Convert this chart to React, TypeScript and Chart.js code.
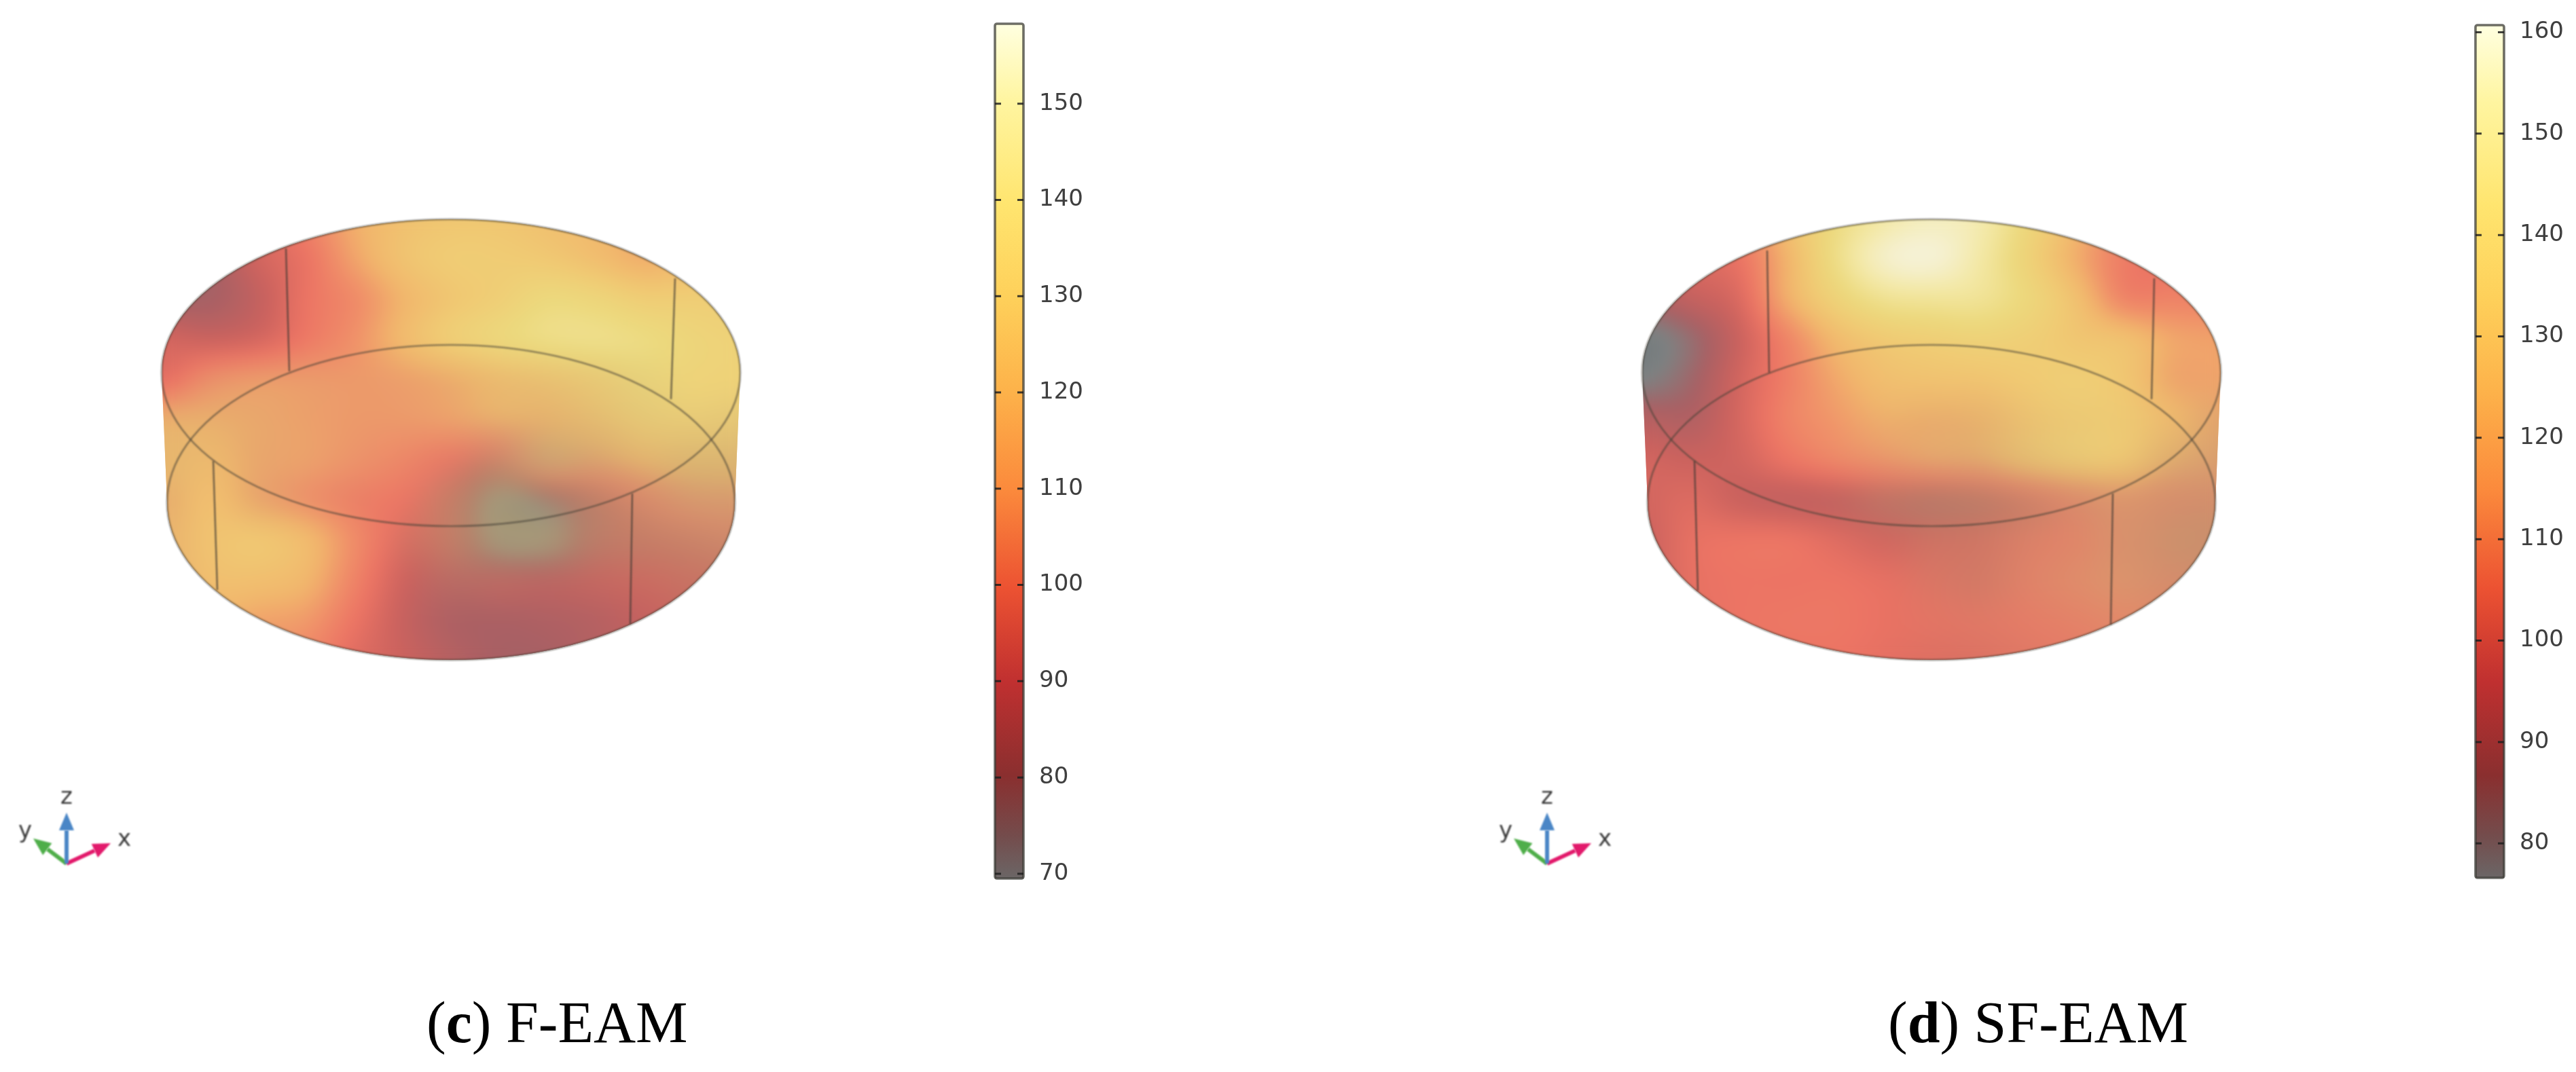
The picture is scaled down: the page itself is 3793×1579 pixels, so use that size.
import React, { useEffect, useRef } from "react";
import { Chart, registerables } from "chart.js";

Chart.register(...registerables);

// ---- values (temperature, one row per image band, top to bottom) ----
const fEamField: number[][] = [
  [92, 92, 95, 105, 118, 125, 128, 128, 125, 122, 118, 118, 120],
  [85, 82, 92, 100, 115, 126, 131, 131, 129, 124, 118, 122, 128],
  [80, 80, 88, 100, 108, 120, 128, 133, 139, 137, 132, 132, 132],
  [92, 90, 93, 102, 110, 122, 132, 138, 142, 143, 141, 137, 135],
  [98, 108, 112, 112, 112, 114, 118, 124, 128, 133, 138, 136, 135],
  [118, 118, 116, 114, 112, 112, 114, 118, 120, 126, 133, 134, 133],
  [122, 122, 116, 114, 110, 106, 100, 95, 112, 114, 121, 125, 125],
  [118, 124, 116, 110, 104, 100, 90, 70, 76, 88, 100, 108, 110],
  [120, 126, 128, 122, 108, 95, 88, 71, 72, 85, 90, 93, 96],
  [118, 124, 124, 120, 105, 91, 85, 85, 85, 88, 90, 90, 90],
  [110, 118, 115, 112, 100, 89, 82, 81, 82, 84, 88, 90, 90],
  [110, 112, 110, 106, 96, 90, 84, 80, 80, 84, 88, 90, 90],
];
const sfEamField: number[][] = [
  [100, 100, 105, 125, 140, 150, 155, 152, 138, 122, 108, 105, 105],
  [90, 95, 100, 120, 142, 157, 160, 150, 135, 118, 103, 100, 100],
  [82, 88, 95, 118, 135, 145, 147, 146, 138, 125, 106, 105, 105],
  [67, 76, 90, 106, 122, 130, 133, 135, 133, 128, 125, 116, 114],
  [70, 78, 92, 104, 116, 124, 126, 127, 130, 132, 128, 116, 115],
  [84, 83, 93, 105, 112, 118, 118, 120, 127, 131, 130, 122, 115],
  [92, 90, 92, 100, 106, 110, 114, 116, 125, 130, 128, 118, 112],
  [92, 95, 90, 88, 88, 88, 86, 88, 95, 103, 108, 102, 100],
  [90, 98, 100, 100, 96, 92, 92, 93, 98, 102, 104, 98, 96],
  [90, 98, 100, 100, 100, 98, 96, 95, 100, 104, 106, 100, 98],
  [95, 98, 100, 101, 101, 99, 98, 98, 100, 102, 104, 102, 100],
  [100, 100, 100, 100, 100, 98, 96, 96, 98, 100, 102, 102, 102],
];
// greyish haze over the colours where the faces overlap, percent
const fEamVeil: number[][] = [
  [0, 0, 0, 0, 0, 0, 0, 0, 0, 0, 0, 0, 0],
  [0, 0, 0, 0, 0, 0, 0, 0, 0, 0, 0, 0, 0],
  [0, 0, 0, 0, 0, 0, 0, 0, 0, 0, 0, 0, 0],
  [0, 0, 0, 0, 0, 0, 0, 0, 0, 0, 0, 0, 0],
  [0, 10, 10, 10, 8, 8, 10, 12, 15, 15, 12, 0, 0],
  [15, 15, 15, 10, 8, 8, 10, 20, 25, 25, 20, 15, 20],
  [20, 10, 15, 10, 8, 5, 15, 50, 65, 45, 30, 40, 40],
  [20, 0, 15, 8, 5, 5, 40, 60, 40, 45, 45, 50, 50],
  [15, 0, 0, 0, 0, 10, 40, 60, 60, 40, 40, 45, 50],
  [15, 0, 0, 0, 0, 0, 15, 15, 10, 10, 15, 25, 30],
  [0, 0, 0, 0, 0, 0, 0, 0, 0, 0, 0, 10, 10],
  [0, 0, 0, 0, 0, 0, 0, 0, 0, 0, 0, 0, 0],
];
const sfEamVeil: number[][] = [
  [0, 0, 0, 0, 0, 0, 0, 0, 0, 0, 0, 0, 0],
  [0, 0, 0, 0, 0, 0, 0, 0, 0, 0, 0, 0, 0],
  [0, 0, 0, 0, 0, 0, 0, 0, 0, 0, 0, 0, 0],
  [0, 0, 0, 0, 0, 0, 0, 0, 0, 0, 0, 0, 0],
  [0, 0, 0, 0, 0, 0, 0, 0, 0, 0, 0, 5, 5],
  [0, 0, 0, 0, 0, 8, 15, 18, 12, 8, 5, 10, 30],
  [0, 0, 0, 0, 5, 15, 25, 30, 25, 15, 10, 35, 45],
  [0, 0, 0, 0, 5, 25, 35, 40, 40, 40, 40, 50, 55],
  [0, 0, 0, 0, 0, 5, 20, 25, 30, 30, 45, 60, 60],
  [0, 0, 0, 0, 0, 0, 15, 25, 28, 30, 40, 50, 50],
  [0, 0, 0, 0, 0, 0, 8, 15, 18, 20, 25, 30, 30],
  [0, 0, 0, 0, 0, 0, 5, 10, 15, 15, 20, 20, 20],
];

const fEamTicks = [70, 80, 90, 100, 110, 120, 130, 140, 150];
const sfEamTicks = [80, 90, 100, 110, 120, 130, 140, 150, 160];
const fEamRange: [number, number] = [69.5, 158.3];
const sfEamRange: [number, number] = [76.6, 160.7];

// colour bar stops, as a fraction of the bar's range
const barColormap: [number, string][] = [
  [0, "#6b6666"], [0.05, "#744c4c"], [0.12, "#8a2f2f"], [0.23, "#c03030"], [0.34, "#ec5232"],
  [0.455, "#fb8a3c"], [0.57, "#fdb24a"], [0.68, "#fed05a"], [0.79, "#ffe56f"], [0.91, "#fff5a0"], [1, "#ffffe0"],
];
const surfaceColormap: [number, number[]][] = [
  [67, [118, 124, 126]], [70, [125, 130, 130]], [80, [168, 96, 100]], [90, [203, 98, 94]],
  [100, [236, 116, 100]], [110, [240, 145, 105]], [120, [241, 182, 108]], [130, [240, 202, 115]],
  [140, [236, 217, 125]], [150, [243, 232, 165]], [160, [245, 241, 212]],
];
const veilColor = [190, 165, 115];

type Seg = [number, number, number, number];
const fEamEdges: Seg[] = [[421, 366, 426, 547], [994, 410, 988, 588], [314, 679, 320, 869], [931, 727, 928, 919]];
const sfEamEdges: Seg[] = [[422, 369, 425, 549], [992, 410, 988, 588], [315, 679, 320, 870], [931, 727, 928, 920]];

const GEOM = {
  top: { cx: 664, cy: 549, rx: 426, ry: 226 },
  bot: { cx: 664, cy: 740, rx: 418, ry: 232 },
  grid: { x0: 238.5, dx: 70.5, y0: 328, dy: 57.7 },
  triad: { o: [98, 1272], z: [98, 1197], y: [49, 1235], x: [163, 1242], lz: [98, 1175], ly: [37, 1225], lx: [183, 1237] },
};

function cm(t: number): number[] {
  const s = surfaceColormap;
  if (t <= s[0][0]) return s[0][1];
  for (let i = 1; i < s.length; i++) {
    if (t <= s[i][0]) {
      const f = (t - s[i - 1][0]) / (s[i][0] - s[i - 1][0]);
      return s[i][1].map((c, k) => s[i - 1][1][k] + (c - s[i - 1][1][k]) * f);
    }
  }
  return s[s.length - 1][1];
}

function cr(a: number, b: number, c: number, d: number, t: number) {
  return b + 0.5 * t * (c - a + t * (2 * a - 5 * b + 4 * c - d + t * (3 * (b - c) + d - a)));
}

function sampler(field: number[][]) {
  const R = field.length, C = field[0].length;
  const at = (r: number, c: number) => field[Math.max(0, Math.min(R - 1, r))][Math.max(0, Math.min(C - 1, c))];
  return (u: number, v: number) => {
    const fy = v * (R - 1);
    const r0 = Math.min(R - 2, Math.floor(fy));
    const fx = u * (C - 1);
    const c0 = Math.min(C - 2, Math.floor(fx));
    const col = [-1, 0, 1, 2].map((o) =>
      cr(at(r0 + o, c0 - 1), at(r0 + o, c0), at(r0 + o, c0 + 1), at(r0 + o, c0 + 2), fx - c0)
    );
    return cr(col[0], col[1], col[2], col[3], fy - r0);
  };
}

function renderField(field: number[][], veil: number[][], w: number, h: number) {
  const off = document.createElement("canvas");
  off.width = w;
  off.height = h;
  const g = off.getContext("2d")!;
  const img = g.createImageData(w, h);
  const sT = sampler(field), sV = sampler(veil);
  for (let y = 0; y < h; y++) {
    for (let x = 0; x < w; x++) {
      const u = x / (w - 1), v = y / (h - 1);
      const rgb = cm(sT(u, v));
      const a = Math.max(0, Math.min(1, sV(u, v) / 100));
      const i = (y * w + x) * 4;
      for (let k = 0; k < 3; k++) img.data[i + k] = rgb[k] * (1 - a) + veilColor[k] * a;
      img.data[i + 3] = 255;
    }
  }
  g.putImageData(img, 0, 0);
  return off;
}

const surfacePlugin = {
  id: "thermalSurface",
  beforeDatasetsDraw(chart: any, _a: any, opts: any) {
    const { ctx, scales } = chart;
    const px = (v: number) => scales.x.getPixelForValue(v);
    const py = (v: number) => scales.y.getPixelForValue(v);
    const { top, bot, triad } = GEOM;
    const field: number[][] = opts.field;
    const R = field.length, C = field[0].length;
    const pts = chart.getDatasetMeta(0).data;
    const first = pts[0], last = pts[R * C - 1];
    const w = Math.round(last.x - first.x), h = Math.round(last.y - first.y);
    const off = renderField(field, opts.veil, Math.round(w / 2), Math.round(h / 2));
    const ell = (e: any) => ctx.ellipse(px(e.cx), py(e.cy), e.rx, e.ry, 0, 0, Math.PI * 2);

    ctx.save();
    ctx.beginPath();
    ell(top);
    ctx.closePath();
    ctx.moveTo(px(top.cx - top.rx), py(top.cy));
    ctx.lineTo(px(top.cx + top.rx), py(top.cy));
    ctx.lineTo(px(bot.cx + bot.rx), py(bot.cy));
    ctx.lineTo(px(bot.cx - bot.rx), py(bot.cy));
    ctx.closePath();
    ctx.moveTo(px(bot.cx + bot.rx), py(bot.cy));
    ell(bot);
    ctx.closePath();
    ctx.clip();
    ctx.imageSmoothingEnabled = true;
    ctx.imageSmoothingQuality = "high";
    ctx.drawImage(off, first.x, first.y - 8, w + 6, h + 20);
    ctx.filter = "blur(10px)";
    ctx.drawImage(off, first.x, first.y - 8, w + 6, h + 20);
    ctx.restore();

    ctx.save();
    ctx.filter = "blur(1px)";
    ctx.strokeStyle = "rgba(70,65,55,0.58)";
    ctx.lineWidth = 2.6;
    ctx.beginPath();
    ell(top);
    ctx.stroke();
    ctx.beginPath();
    ell(bot);
    ctx.stroke();
    ctx.strokeStyle = "rgba(60,55,50,0.7)";
    ctx.lineWidth = 2.4;
    for (const s of opts.edges as Seg[]) {
      ctx.beginPath();
      ctx.moveTo(px(s[0]), py(s[1]));
      ctx.lineTo(px(s[2]), py(s[3]));
      ctx.stroke();
    }
    ctx.restore();

    // coordinate triad
    const arrow = (to: number[], color: string) => {
      const [ox, oy] = [px(triad.o[0]), py(triad.o[1])];
      const [tx, ty] = [px(to[0]), py(to[1])];
      const a = Math.atan2(ty - oy, tx - ox);
      const L = 26, W = 11;
      const bx = tx - L * Math.cos(a), by = ty - L * Math.sin(a);
      ctx.strokeStyle = color;
      ctx.fillStyle = color;
      ctx.lineWidth = 6;
      ctx.beginPath();
      ctx.moveTo(ox, oy);
      ctx.lineTo(bx, by);
      ctx.stroke();
      ctx.beginPath();
      ctx.moveTo(tx, ty);
      ctx.lineTo(bx - W * Math.sin(a), by + W * Math.cos(a));
      ctx.lineTo(bx + W * Math.sin(a), by - W * Math.cos(a));
      ctx.closePath();
      ctx.fill();
    };
    ctx.save();
    ctx.filter = "blur(0.8px)";
    arrow(triad.y, "#4fae4a");
    arrow(triad.x, "#e2196b");
    arrow(triad.z, "#4a86c6");
    ctx.fillStyle = "#3c3c3c";
    ctx.font = '34px "DejaVu Sans"';
    ctx.textAlign = "center";
    ctx.textBaseline = "middle";
    ctx.fillText("z", px(triad.lz[0]), py(triad.lz[1]));
    ctx.fillText("y", px(triad.ly[0]), py(triad.ly[1]));
    ctx.fillText("x", px(triad.lx[0]), py(triad.lx[1]));
    ctx.restore();
  },
};

const barFramePlugin = {
  id: "barFrame",
  afterDatasetsDraw(chart: any) {
    const { ctx, chartArea: a, scales } = chart;
    ctx.save();
    ctx.filter = "blur(0.6px)";
    ctx.strokeStyle = "rgba(60,60,55,0.75)";
    ctx.lineWidth = 3.6;
    ctx.lineJoin = "round";
    ctx.beginPath();
    ctx.roundRect(a.left, a.top, a.right - a.left, a.bottom - a.top, 3);
    ctx.stroke();
    ctx.strokeStyle = "rgba(30,30,30,0.85)";
    ctx.lineWidth = 3;
    for (const t of scales.y.ticks) {
      const y = scales.y.getPixelForValue(t.value);
      ctx.beginPath();
      ctx.moveTo(a.left, y);
      ctx.lineTo(a.left + 9, y);
      ctx.moveTo(a.right - 9, y);
      ctx.lineTo(a.right, y);
      ctx.stroke();
    }
    ctx.restore();
  },
};

function SurfacePanel({ field, veil, edges, left, width }: any) {
  const ref = useRef<HTMLCanvasElement>(null);
  useEffect(() => {
    const H = 1400;
    const data: any[] = [];
    field.forEach((row: number[], r: number) =>
      row.forEach((v, c) =>
        data.push({ x: GEOM.grid.x0 + c * GEOM.grid.dx, y: GEOM.grid.y0 + r * GEOM.grid.dy, v })
      )
    );
    const chart = new Chart(ref.current!, {
      type: "scatter",
      data: { datasets: [{ data, pointRadius: 0, showLine: false }] },
      options: {
        responsive: false,
        animation: false,
        devicePixelRatio: 1,
        layout: { padding: 0 },
        plugins: { legend: { display: false }, tooltip: { enabled: false }, thermalSurface: { field, veil, edges } } as any,
        scales: {
          x: { type: "linear", display: false, min: 0, max: width },
          y: { type: "linear", display: false, min: 0, max: H, reverse: true },
        },
      },
      plugins: [surfacePlugin as any],
    });
    return () => chart.destroy();
  }, []);
  return <canvas ref={ref} width={width} height={1400} style={{ position: "absolute", left, top: 0 }} />;
}

function ColorBar({ ticks, range, left, barTop, barBottom }: any) {
  const ref = useRef<HTMLCanvasElement>(null);
  const H = 1400, PAD = 6, BAR = 42, AX = 120;
  useEffect(() => {
    const chart = new Chart(ref.current!, {
      type: "bar",
      data: {
        labels: ["T"],
        datasets: [
          {
            data: [range as any],
            categoryPercentage: 1,
            barPercentage: 1,
            borderWidth: 0,
            backgroundColor: (c: any) => {
              const ch = c.chart;
              const y = ch.scales.y;
              if (!ch.chartArea || !y) return "#999";
              const p0 = y.getPixelForValue(range[0]);
              const p1 = y.getPixelForValue(range[1]);
              if (!Number.isFinite(p0) || !Number.isFinite(p1)) return "#999";
              const grad = ch.ctx.createLinearGradient(0, p0, 0, p1);
              barColormap.forEach(([f, col]) => grad.addColorStop(f, col));
              return grad;
            },
          } as any,
        ],
      },
      options: {
        responsive: false,
        animation: false,
        devicePixelRatio: 1,
        layout: { padding: { left: PAD, right: 0, top: barTop, bottom: H - barBottom } },
        plugins: { legend: { display: false }, tooltip: { enabled: false } },
        scales: {
          x: { display: false },
          y: {
            position: "right",
            min: range[0],
            max: range[1],
            grid: { display: false, drawTicks: false },
            border: { display: false },
            afterFit: (s: any) => { s.width = AX; s.paddingTop = 0; s.paddingBottom = 0; },
            afterBuildTicks: (s: any) => { s.ticks = ticks.map((value: number) => ({ value })); },
            ticks: {
              padding: 23,
              color: "#3f3f3f",
              font: { family: "DejaVu Sans", size: 34 },
              callback: (v: any) => String(v),
            },
          },
        },
      },
      plugins: [barFramePlugin as any],
    });
    return () => chart.destroy();
  }, []);
  return (
    <canvas ref={ref} width={PAD + BAR + AX} height={H} style={{ position: "absolute", left: left - PAD, top: 0 }} />
  );
}

const captionStyle: React.CSSProperties = {
  position: "absolute",
  top: 1457,
  fontFamily: '"Liberation Serif", serif',
  fontSize: 86,
  lineHeight: "98px",
  color: "#000",
  whiteSpace: "nowrap",
};

export default function App() {
  useEffect(() => {
    document.body.style.margin = "0";
    document.body.style.background = "#fff";
    document.body.style.overflow = "hidden";
  }, []);
  return (
    <div style={{ position: "relative", width: 3793, height: 1579, overflow: "hidden", background: "#fff" }}>
      <SurfacePanel field={fEamField} veil={fEamVeil} edges={fEamEdges} left={0} width={1440} />
      <ColorBar ticks={fEamTicks} range={fEamRange} left={1465} barTop={35} barBottom={1294} />
      <SurfacePanel field={sfEamField} veil={sfEamVeil} edges={sfEamEdges} left={2180} width={1300} />
      <ColorBar ticks={sfEamTicks} range={sfEamRange} left={3645} barTop={37} barBottom={1293} />
      <div style={{ ...captionStyle, left: 628 }}>(<b>c</b>) F-EAM</div>
      <div style={{ ...captionStyle, left: 2780 }}>(<b>d</b>) SF-EAM</div>
    </div>
  );
}
